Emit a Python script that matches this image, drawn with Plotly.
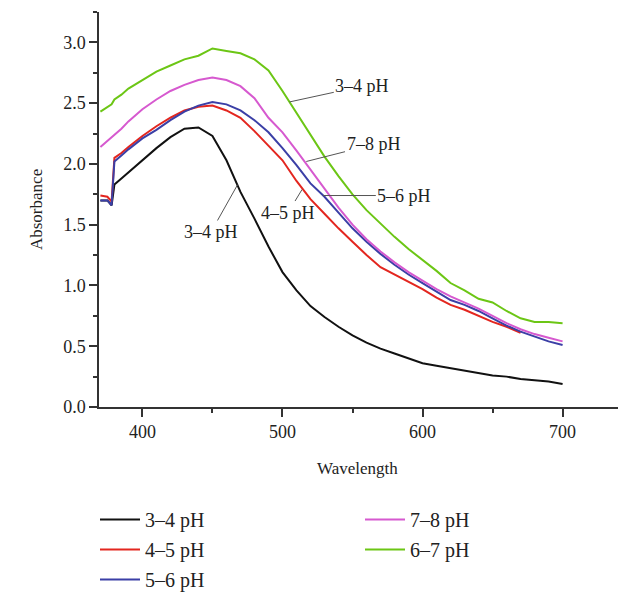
import plotly.graph_objects as go

# wavelength grid (nm)
wavelength = [370, 375, 378, 380, 385, 390, 400, 410, 420, 430, 440, 450, 460, 470,
              480, 490, 500, 510, 520, 530, 540, 550, 560, 570, 580, 590, 600, 610,
              620, 630, 640, 650, 660, 670, 680, 690, 700]

# absorbance per pH range
abs_3_4 = [1.70, 1.70, 1.66, 1.83, 1.88, 1.93, 2.03, 2.13, 2.22, 2.29, 2.30, 2.23, 2.03, 1.77,
           1.55, 1.32, 1.11, 0.96, 0.83, 0.74, 0.66, 0.59, 0.53, 0.48, 0.44, 0.40, 0.36, 0.34,
           0.32, 0.30, 0.28, 0.26, 0.25, 0.23, 0.22, 0.21, 0.19]
abs_4_5 = [1.74, 1.73, 1.69, 2.05, 2.09, 2.14, 2.23, 2.31, 2.38, 2.44, 2.47, 2.48, 2.44, 2.38,
           2.27, 2.15, 2.03, 1.86, 1.71, 1.59, 1.47, 1.36, 1.25, 1.15, 1.09, 1.03, 0.97, 0.90,
           0.84, 0.80, 0.75, 0.70, 0.66, 0.61, None, None, None]
abs_5_6 = [1.70, 1.70, 1.66, 2.02, 2.07, 2.12, 2.21, 2.28, 2.36, 2.43, 2.48, 2.51, 2.49, 2.44,
           2.36, 2.26, 2.13, 1.99, 1.84, 1.73, 1.60, 1.47, 1.36, 1.26, 1.17, 1.09, 1.02, 0.95,
           0.88, 0.84, 0.79, 0.73, 0.67, 0.62, 0.58, 0.54, 0.51]
abs_7_8 = [2.14, 2.19, 2.22, 2.24, 2.29, 2.35, 2.45, 2.53, 2.60, 2.65, 2.69, 2.71, 2.69, 2.64,
           2.54, 2.38, 2.26, 2.11, 1.95, 1.79, 1.64, 1.50, 1.38, 1.28, 1.19, 1.11, 1.04, 0.97,
           0.91, 0.86, 0.81, 0.75, 0.69, 0.64, 0.60, 0.57, 0.54]
abs_6_7 = [2.43, 2.47, 2.49, 2.53, 2.57, 2.62, 2.69, 2.76, 2.81, 2.86, 2.89, 2.95, 2.93, 2.91,
           2.86, 2.77, 2.60, 2.42, 2.23, 2.06, 1.90, 1.75, 1.62, 1.51, 1.40, 1.30, 1.21, 1.12,
           1.02, 0.96, 0.89, 0.86, 0.79, 0.73, 0.70, 0.70, 0.69]

# (name, values, colour, legend, rank)
series = [
    ("3–4 pH", abs_3_4, "#111111", "legend", 1),
    ("4–5 pH", abs_4_5, "#e3261f", "legend", 2),
    ("5–6 pH", abs_5_6, "#3b3fa6", "legend", 3),
    ("7–8 pH", abs_7_8, "#d659cf", "legend2", 4),
    ("6–7 pH", abs_6_7, "#6cc615", "legend2", 5),
]

# callout labels: text, point on curve, text centre
callouts = [
    ("3–4 pH", 505, 2.51, 557, 2.64),
    ("7–8 pH", 517, 2.02, 565, 2.16),
    ("5–6 pH", 529, 1.74, 587, 1.74),
    ("4–5 pH", 514, 1.79, 504, 1.60),
    ("3–4 pH", 468, 1.83, 449, 1.44),
]

SERIF = "Liberation Serif"
INK = "#222222"

fig = go.Figure()
for name, vals, color, leg, rank in series:
    fig.add_trace(go.Scatter(
        x=wavelength, y=vals, mode="lines", name=name,
        line=dict(color=color, width=2),
        legend=leg, legendrank=rank, legendgroup=name,
    ))

for text, x, y, tx, ty in callouts:
    fig.add_annotation(
        x=x, y=y, ax=tx, ay=ty, axref="x", ayref="y",
        text=text, showarrow=True, arrowhead=0, arrowwidth=1,
        arrowcolor="#555555", font=dict(family=SERIF, size=18, color=INK),
    )

# axis titles as plain annotations so they sit where the reference has them
fig.add_annotation(x=-0.142, y=0.50, xref="paper", yref="paper", text="Absorbance",
                   textangle=-90, showarrow=False, font=dict(family=SERIF, size=17, color=INK))
fig.add_annotation(x=0.497, y=-0.185, xref="paper", yref="paper", text="Wavelength",
                   showarrow=False, font=dict(family=SERIF, size=17, color=INK))

axis_common = dict(
    showline=True, linecolor="#333333", linewidth=1.5,
    ticks="outside", tickcolor="#333333", tickwidth=1.5, ticklen=8,
    showgrid=False, zeroline=False,
    tickfont=dict(family=SERIF, size=18, color=INK),
)

legend_common = dict(
    xref="container", yref="container", y=1 - 492 / 584,
    xanchor="left", yanchor="top", tracegroupgap=1, itemwidth=40,
    font=dict(family=SERIF, size=20, color=INK),
    bgcolor="rgba(0,0,0,0)",
)

# page body adds ~8px offset, so the figure is 618x584
fig.update_layout(
    width=618, height=584,
    paper_bgcolor="white", plot_bgcolor="white",
    margin=dict(l=91, r=6, t=4, b=185, autoexpand=False),
    xaxis=dict(
        range=[369, 741], tickvals=[400, 500, 600, 700], tickangle=0,
        minor=dict(ticks="outside", ticklen=4, tickcolor="#333333", dtick=50, tick0=0),
        **axis_common,
    ),
    yaxis=dict(
        range=[0, 3.25], dtick=0.5, tickformat=".1f",
        minor=dict(ticks="outside", ticklen=4, tickcolor="#333333", dtick=0.25),
        **axis_common,
    ),
    legend=dict(x=87 / 618, **legend_common),
    legend2=dict(x=352 / 618, **legend_common),
    showlegend=True,
)

fig.write_html("out.html")
